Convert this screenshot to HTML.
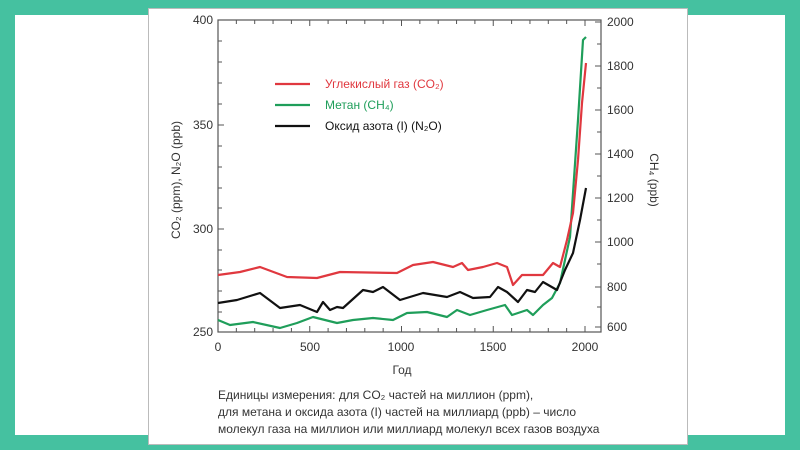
<!DOCTYPE html>
<html><head><meta charset="utf-8"><style>
html,body{margin:0;padding:0;background:#45c1a0;width:800px;height:450px;overflow:hidden}
svg{display:block}
text{font-family:"Liberation Sans",sans-serif}
</style></head><body>
<svg width="800" height="450" viewBox="0 0 800 450">
<rect x="0" y="0" width="800" height="450" fill="#45c1a0"/>
<rect x="15" y="15" width="770" height="420" fill="#fff"/>
<rect x="148.5" y="8.5" width="539" height="436" fill="#fff" stroke="#bbb"/>
<g stroke="#555" stroke-width="1.2" fill="none">
<rect x="218" y="20" width="383" height="312"/>
</g>
<g stroke="#555" stroke-width="1">
<path d="M218,332v-6M236.35,332v-4M254.7,332v-4M273.05,332v-4M291.4,332v-4M309.75,332v-6M328.1,332v-4M346.45,332v-4M364.8,332v-4M383.15,332v-4M401.5,332v-6M419.85,332v-4M438.2,332v-4M456.55,332v-4M474.9,332v-4M493.25,332v-6M511.6,332v-4M529.95,332v-4M548.3,332v-4M566.65,332v-4M585,332v-6"/>
<path d="M218,20v6M236.35,20v4M254.7,20v4M273.05,20v4M291.4,20v4M309.75,20v6M328.1,20v4M346.45,20v4M364.8,20v4M383.15,20v4M401.5,20v6M419.85,20v4M438.2,20v4M456.55,20v4M474.9,20v4M493.25,20v6M511.6,20v4M529.95,20v4M548.3,20v4M566.65,20v4M585,20v6"/>
<path d="M218,41h4M218,62h4M218,83h4M218,104h4M218,125h6M218,146h4M218,167h4M218,188h4M218,208h4M218,229h6M218,250h4M218,270h4M218,291h4M218,312h4"/>
<path d="M601,22h-6M601,44h-4M601,66h-6M601,88h-4M601,110h-6M601,132h-4M601,154h-6M601,176h-4M601,198h-6M601,220h-4M601,242h-6M601,264h-4M601,287h-6M601,307h-4M601,327h-6"/>
</g>
<g font-size="12" fill="#333" text-anchor="end">
<text x="213" y="24">400</text><text x="213" y="129">350</text><text x="213" y="233">300</text><text x="213" y="336">250</text>
</g>
<g font-size="12" fill="#333">
<text x="607" y="26">2000</text><text x="607" y="70">1800</text><text x="607" y="114">1600</text><text x="607" y="158">1400</text><text x="607" y="202">1200</text><text x="607" y="246">1000</text><text x="607" y="291">800</text><text x="607" y="331">600</text>
</g>
<g font-size="12" fill="#333" text-anchor="middle">
<text x="218" y="351">0</text><text x="310" y="351">500</text><text x="401" y="351">1000</text><text x="493" y="351">1500</text><text x="585" y="351">2000</text>
<text x="402" y="374">Год</text>
</g>
<text font-size="12" fill="#333" text-anchor="middle" transform="translate(180,180) rotate(-90)">CO₂ (ppm), N₂O (ppb)</text>
<text font-size="12" fill="#333" text-anchor="middle" transform="translate(650,180) rotate(90)">CH₄ (ppb)</text>
<g stroke-width="2.2" fill="none" stroke-linejoin="round">
<polyline stroke="#1f9e5a" points="218,320 230,325 253,322 280,328 297,323 313,317 337,323 353,320 373,318 393,320 407,313 427,312 447,317 457,310 470,315 487,310 505,305 512,315 527,310 533,315 543,305 552,298 560,283 570,237 578,120 583,40 586,37"/>
<polyline stroke="#e0383f" points="218,275 240,272 260,267 287,277 317,278 340,272 397,273 413,265 433,262 453,267 462,263 468,270 483,267 497,263 507,267 513,285 522,275 543,275 553,263 560,267 567,240 573,213 578,160 582,103 586,63"/>
<polyline stroke="#111" points="218,303 237,300 260,293 280,308 300,305 317,312 323,302 330,310 337,307 343,308 363,290 373,292 383,287 400,300 423,293 447,297 460,292 473,298 490,297 498,287 507,292 518,302 527,290 535,292 543,282 557,290 565,270 573,253 580,220 586,188"/>
</g>
<g stroke-width="2.2">
<line x1="275" y1="84" x2="310" y2="84" stroke="#e0383f"/>
<line x1="275" y1="105" x2="310" y2="105" stroke="#1f9e5a"/>
<line x1="275" y1="126" x2="310" y2="126" stroke="#111"/>
</g>
<g font-size="12">
<text x="325" y="88" fill="#e0383f">Углекислый газ (CO₂)</text>
<text x="325" y="109" fill="#1f9e5a">Метан (CH₄)</text>
<text x="325" y="130" fill="#111">Оксид азота (I) (N₂O)</text>
</g>
<g font-size="12" fill="#333">
<text x="218" y="399">Единицы измерения: для CO₂ частей на миллион (ppm),</text>
<text x="218" y="416">для метана и оксида азота (I) частей на миллиард (ppb) – число</text>
<text x="218" y="433">молекул газа на миллион или миллиард молекул всех газов воздуха</text>
</g>
</svg>
</body></html>
